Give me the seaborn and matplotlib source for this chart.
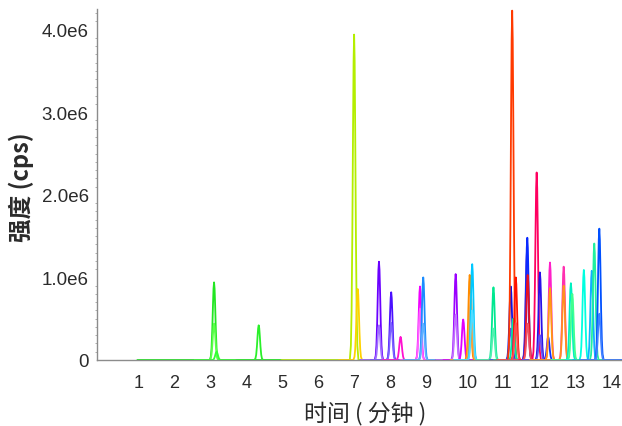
import matplotlib
matplotlib.use('Agg')
import matplotlib.pyplot as plt
import matplotlib.transforms as mtransforms
from matplotlib.ticker import MultipleLocator, FuncFormatter
import pandas as pd
import seaborn as sns

# peak apex: retention time (min), height (cps), trace colour, trace window (min)
peak_rt = [3.13, 3.13, 3.20, 4.37, 7.02, 7.12, 7.71, 7.71, 8.05, 8.05,
           8.31, 8.85, 8.85, 8.94, 8.94, 9.84, 9.84, 10.05, 10.23, 10.26,
           10.30, 10.30, 10.89, 10.89, 11.37, 11.37, 11.41, 11.44, 11.51, 11.51,
           11.82, 11.83, 11.84, 11.84, 12.09, 12.18, 12.18, 12.41, 12.46, 12.46,
           12.84, 12.84, 13.04, 13.08, 13.40, 13.62, 13.69, 13.83, 13.83]
peak_height = [0.94e6, 0.44e6, 0.10e6, 0.42e6, 3.94e6, 0.86e6, 1.19e6, 0.42e6, 0.82e6, 0.45e6,
               0.28e6, 0.89e6, 0.62e6, 1.00e6, 0.44e6, 1.04e6, 0.55e6, 0.49e6, 1.03e6, 0.80e6,
               1.16e6, 0.60e6, 0.88e6, 0.38e6, 0.89e6, 0.38e6, 4.23e6, 0.50e6, 1.00e6, 0.45e6,
               1.31e6, 1.48e6, 1.03e6, 0.44e6, 2.27e6, 1.06e6, 0.30e6, 0.28e6, 1.18e6, 0.87e6,
               1.13e6, 0.90e6, 0.93e6, 0.80e6, 1.09e6, 1.08e6, 1.41e6, 1.59e6, 0.56e6]
peak_color = ['#22e622', '#5cff4a', '#33ff33', '#2af02a', '#b4ee00', '#ffd200', '#6a00ff', '#a070ff', '#4a10ff', '#7a60ff',
              '#ff10d0', '#f000ff', '#ff60ff', '#1a8cff', '#60b0ff', '#9a00ff', '#c070ff', '#e000ff', '#ff8c00', '#ffa040',
              '#00c8ff', '#50dcff', '#00e890', '#50f0b0', '#1010e0', '#5050f0', '#ff3a00', '#00e8a0', '#ff1000', '#ff5050',
              '#7a3ad0', '#0a2aff', '#e81020', '#f05060', '#ff0060', '#2a10e8', '#6050f0', '#1030ff', '#ff20c8', '#ff9a10',
              '#ff30b0', '#ff9020', '#00f0c0', '#40ff90', '#00ffe0', '#10b0ff', '#20f0a0', '#0050ff', '#4080ff']
trace_start = [1.0, 2.6, 2.6, 3.8, 5.0, 6.6, 7.2, 7.2, 7.5, 7.5,
               7.8, 8.3, 8.3, 8.4, 8.4, 9.3, 9.3, 9.5, 9.7, 9.7,
               9.8, 9.8, 10.4, 10.4, 10.8, 10.8, 10.9, 10.9, 11.0, 11.0,
               11.3, 11.3, 11.3, 11.3, 11.6, 11.7, 11.7, 11.9, 11.9, 11.9,
               12.3, 12.3, 12.5, 12.5, 12.9, 13.1, 13.2, 13.3, 13.3]
trace_end = [5.0, 3.7, 3.7, 5.0, 7.6, 7.6, 8.2, 8.2, 8.6, 8.6,
             8.8, 9.4, 9.4, 9.5, 9.5, 10.4, 10.4, 10.6, 10.8, 10.8,
             10.8, 10.8, 11.4, 11.4, 11.9, 11.9, 12.0, 12.0, 12.0, 12.0,
             12.3, 12.3, 12.3, 12.3, 12.6, 12.7, 12.7, 12.9, 13.0, 13.0,
             13.3, 13.3, 13.6, 13.6, 13.9, 14.1, 14.2, 14.46, 14.46]

# fixed chromatographic peak profile (offset from apex in min, fraction of apex)
profile_dt = [-0.12, -0.09, -0.07, -0.05, -0.03, -0.015, 0.0, 0.015, 0.03, 0.05, 0.07, 0.09, 0.12]
profile_frac = [0.0, 0.044, 0.151, 0.381, 0.707, 0.917, 1.0, 0.917, 0.707, 0.381, 0.151, 0.044, 0.0]

xticks = list(range(1, 15))

rows = []
for i, (rt, h) in enumerate(zip(peak_rt, peak_height)):
    rows.append((f't{i}', trace_start[i], 0.0))
    for dt, fr in zip(profile_dt, profile_frac):
        rows.append((f't{i}', rt + dt, h * fr))
    rows.append((f't{i}', trace_end[i], 0.0))
df = pd.DataFrame(rows, columns=['trace', 'time', 'intensity'])
palette = {f't{i}': c for i, c in enumerate(peak_color)}

sns.set_style('white')
plt.rcParams['font.family'] = ['Liberation Sans', 'Noto Sans CJK SC', 'DejaVu Sans']

fig = plt.figure(figsize=(6.22, 4.27), dpi=100)
ax = fig.add_axes([0.156, 0.1546, 0.844, 0.822])

sns.lineplot(data=df, x='time', y='intensity', hue='trace', palette=palette,
             estimator=None, sort=False, legend=False, linewidth=1.3, ax=ax)

ax.set_xlim(-0.12, 14.46)
ax.set_ylim(0, 4.25e6)
ax.set_xticks(xticks)
ax.set_xticklabels([str(t) for t in xticks])
ax.set_yticks([0, 1e6, 2e6, 3e6, 4e6])
ax.yaxis.set_minor_locator(MultipleLocator(1e5))
ax.yaxis.set_major_formatter(FuncFormatter(lambda v, p: '0' if v == 0 else f'{v / 1e6:.1f}e6'))

for s in ['top', 'right']:
    ax.spines[s].set_visible(False)
for s in ['left', 'bottom']:
    ax.spines[s].set_color('#8c8c8c')
    ax.spines[s].set_linewidth(1.0)

ax.tick_params(axis='x', which='major', length=2, color='#8c8c8c', labelsize=13,
               labelcolor='#2b2b2b', pad=8)
ax.tick_params(axis='y', which='major', length=2, color='#8c8c8c', labelsize=13.5,
               labelcolor='#2b2b2b', pad=4)
ax.tick_params(axis='y', which='minor', length=1.2, width=0.6, color='#a0a0a0', left=True)

offset = mtransforms.ScaledTranslation(-0.04, 0, fig.dpi_scale_trans)
for lbl in ax.get_xticklabels():
    lbl.set_horizontalalignment('left')
    lbl.set_transform(lbl.get_transform() + offset)

ax.set_xlabel('时间 ( 分钟 )', fontsize=16.5, color='#2b2b2b',
              family=['Noto Sans CJK SC', 'DejaVu Sans'])
ax.xaxis.label.set_va('center')
ax.xaxis.set_label_coords(0.51, -0.15)
ax.set_ylabel('强度 (cps)', fontsize=17, fontweight='bold', color='#2b2b2b',
              family=['Noto Sans CJK SC', 'DejaVu Sans'])
ax.yaxis.label.set_va('center')
ax.yaxis.set_label_coords(-0.145, 0.496)

fig.savefig('out.png', dpi=100)
